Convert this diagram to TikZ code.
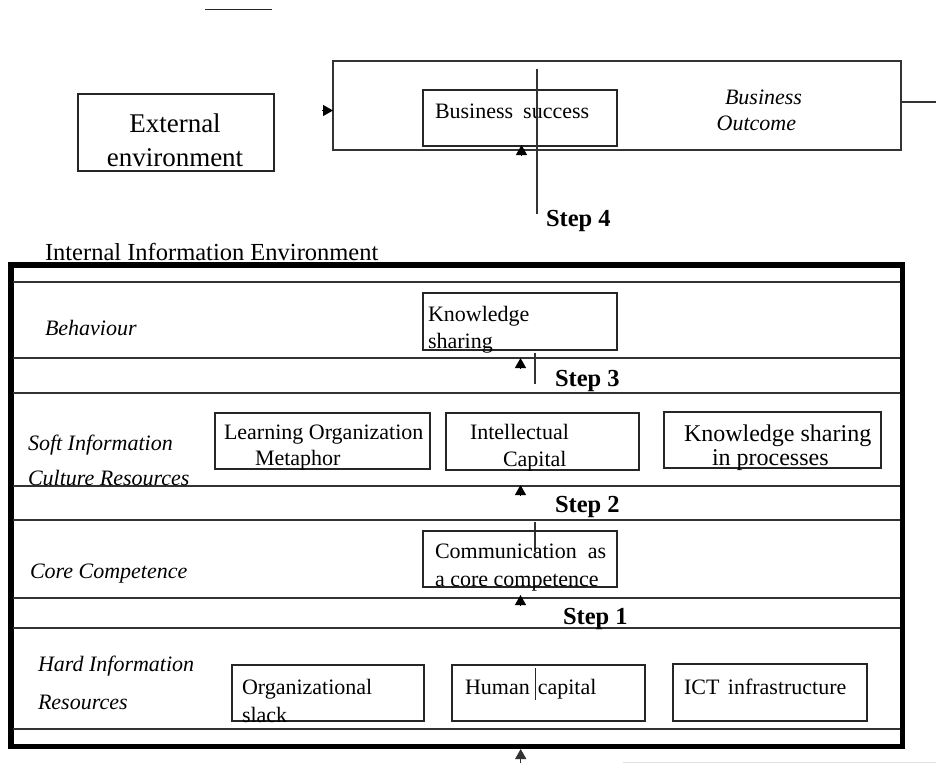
\documentclass[tikz,border=0pt]{standalone}
\usepackage{fontspec}
\setmainfont{Liberation Serif}
\usetikzlibrary{arrows.meta,fit}
\newcommand\fsz[1]{\fontsize{#1}{#1}\selectfont}
\begin{document}
\begin{tikzpicture}[x=1pt,y=-1pt,
  box/.style={draw=black!85, line width=1.2pt, inner sep=0pt, outer sep=0pt},
  bigframe/.style={draw=black, line width=5.5pt, inner sep=0pt, outer sep=0pt},
  lbl/.style={anchor=base west, inner sep=0pt, outer sep=0pt, font=\fsz{22}},
  lblit/.style={lbl, font=\fsz{22}\itshape},
  steplbl/.style={lbl, font=\fsz{24.5}\bfseries},
  rule/.style={draw=black!80, line width=1.2pt},
  arrowhd/.style={-{Triangle[width=11pt,length=10pt]}, line width=1.2pt}]
\useasboundingbox (0,0) rectangle (936,763);

% top stray line
\coordinate (tl1) at (205,9.5);
\coordinate (tl2) at (272,9.5);
\draw[line width=1.5pt, black!85] (tl1) -- (tl2);

% External environment
\node[box, fit={(78,94)(274,171)}] (ext) {};
\node[lbl, anchor=base, font=\fsz{27}] (ext1) at (175,132.5) {External};
\node[lbl, anchor=base, font=\fsz{27}] (ext2) at (175,166.5) {environment};

% Business outcome
\node[box, line width=1.5pt, draw=black!80, fit={(333,61)(901,150)}] (bo) {};
\node[box, fit={(423,90)(617,146)}] (bs) {};
\node[lbl] (bs1) at (435,118.3) {Business\hspace{10pt}success};
\node[lblit] (bo1) at (725,104) {Business};
\node[lblit] (bo2) at (716.7,130) {Outcome};
\coordinate (inA) at (322,110.5);
\draw[arrowhd] (inA) -- (bo.west |- inA);
\coordinate (outA) at (936,102);
\draw[rule, line width=1.5pt] (bo.east |- outA) -- (outA);
\coordinate (bsA) at (521.5,156);
\draw[arrowhd] (bsA) -- (521.5,145);
\coordinate (s4t) at (537,69);
\coordinate (s4b) at (537,214);
\draw[rule] (s4t) -- (s4b);
\node[steplbl] (step4) at (546,226) {Step 4};

% Internal information environment
\node[lbl, font=\fsz{24.5}] (iiet) at (45,260.5) {Internal Information Environment};
\node[bigframe, fit={(10.8,265)(902.5,746.3)}] (iie) {};
\foreach \yy in {282,358,393,486,520,598,628,729}
  \draw[rule] (13,\yy) -- (900,\yy);

% Behaviour
\node[lblit] (beh) at (45,335) {Behaviour};
\node[box, fit={(423,293)(617,350)}] (ks) {};
\node[lbl] (ks1) at (428,321) {Knowledge};
\node[lbl] (ks2) at (428,348) {sharing};
\coordinate (a3) at (520.5,368);
\draw[arrowhd] (a3) -- (520.5,358);
\coordinate (s3t) at (535,353);
\coordinate (s3b) at (535,384);
\draw[rule] (s3t) -- (s3b);
\node[steplbl] (step3) at (555,386) {Step 3};

% Soft information culture resources
\node[lblit] (soft1) at (28,450) {Soft Information};
\node[lblit] (soft2) at (28,485) {Culture Resources};
\node[box, fit={(215,413)(430,469)}] (lo) {};
\node[lbl] (lo1) at (224,439) {Learning Organization};
\node[lbl] (lo2) at (255,465) {Metaphor};
\node[box, fit={(446,413)(639,470)}] (ic) {};
\node[lbl] (ic1) at (470,439) {Intellectual};
\node[lbl] (ic2) at (503,466) {Capital};
\node[box, fit={(664,412)(881,468)}] (ksp) {};
\node[lbl, font=\fsz{24}] (ksp1) at (684,441) {Knowledge sharing};
\node[lbl, font=\fsz{24}] (ksp2) at (712,465.5) {in processes};
\coordinate (a2) at (520.5,495);
\draw[arrowhd] (a2) -- (520.5,485);
\node[steplbl] (step2) at (555,512.5) {Step 2};
\coordinate (s2t) at (535,522);
\coordinate (s2b) at (535,552);
\draw[rule] (s2t) -- (s2b);

% Core competence
\node[lblit] (cc) at (30,578) {Core Competence};
\node[box, fit={(423,531)(617,587)}] (com) {};
\node[lbl] (com1) at (435,558) {Communication\hspace{11pt}as};
\node[lbl] (com2) at (435,586) {a core competence};
\coordinate (a1) at (520.5,605);
\draw[arrowhd] (a1) -- (520.5,595);
\node[steplbl] (step1) at (563,624.5) {Step 1};

% Hard information resources
\node[lblit] (hard1) at (38,671) {Hard Information};
\node[lblit] (hard2) at (38,709.5) {Resources};
\node[box, fit={(232,665)(424,721)}] (os) {};
\node[lbl] (os1) at (242,694) {Organizational};
\node[lbl] (os2) at (242,722) {slack};
\node[box, fit={(452,665)(645,721)}] (hc) {};
\node[lbl] (hc1) at (465,694.5) {Human\hspace{8pt}capital};
\coordinate (hct) at (535,668);
\coordinate (hcb) at (535,700);
\draw[line width=1pt, black!85] (hct) -- (hcb);
\node[box, fit={(673,664)(867,721)}] (ict) {};
\node[lbl] (ict1) at (684,694.5) {ICT\hspace{8.5pt}infrastructure};

% bottom arrow
\coordinate (a0) at (520.7,763);
\draw[rule, arrowhd] (a0) -- (520.7,749);

% faint bottom line
\coordinate (fl1) at (623,762.3);
\coordinate (fl2) at (936,762.3);
\draw[black!12, line width=1pt] (fl1) -- (fl2);
\end{tikzpicture}
\end{document}
